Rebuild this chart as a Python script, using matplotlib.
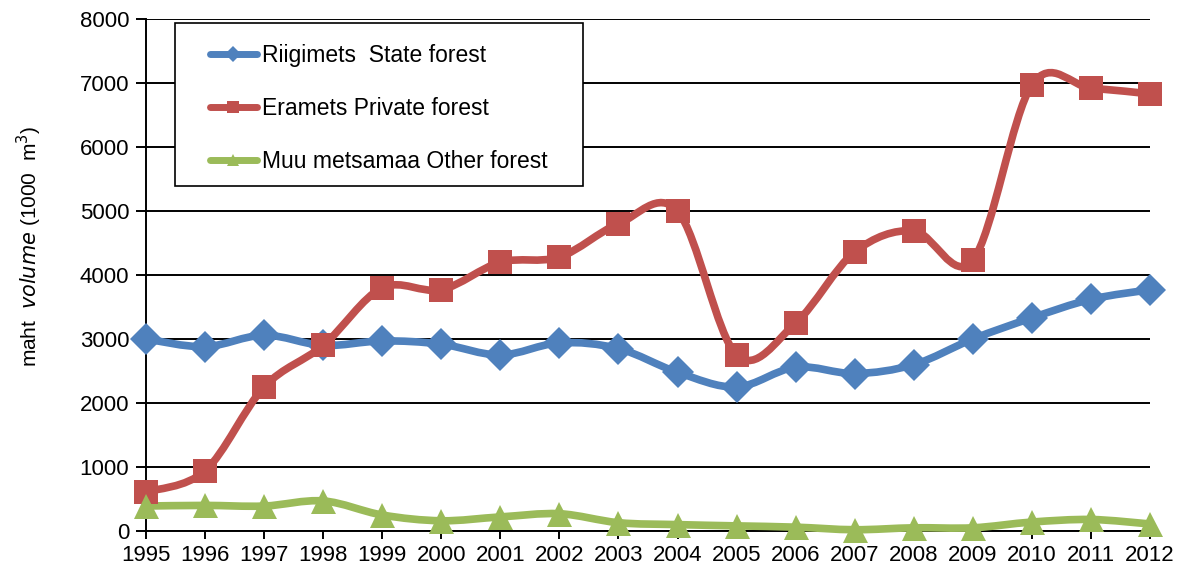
import matplotlib.pyplot as plt
from matplotlib.path import Path
from matplotlib.patches import PathPatch, Rectangle
from matplotlib.lines import Line2D

plt.rcParams['font.family'] = ['Liberation Sans', 'DejaVu Sans']

years = list(range(1995, 2013))
state = [3000, 2880, 3060, 2900, 2970, 2920, 2750, 2940, 2850, 2480,
         2250, 2560, 2460, 2600, 3000, 3330, 3620, 3770]
private = [610, 940, 2250, 2900, 3800, 3770, 4200, 4280, 4800, 5000,
           2750, 3250, 4360, 4690, 4230, 6970, 6920, 6830]
other = [390, 400, 390, 470, 250, 160, 220, 270, 130, 100,
         80, 60, 20, 50, 50, 140, 180, 110]

labels = ['Riigimets  State forest', 'Eramets Private forest', 'Muu metsamaa Other forest']
colors = ['#4F81BD', '#C0504D', '#9BBB59']
markers = ['D', 's', '^']
msizes = [16, 17, 18]
yticks = list(range(0, 8001, 1000))


def smooth_path(x, y):
    # Excel-like smoothed line: cubic Bezier segments through every point
    n = len(x)
    verts = [(x[0], y[0])]
    codes = [Path.MOVETO]
    for i in range(n - 1):
        i0 = max(i - 1, 0)
        i3 = min(i + 2, n - 1)
        c1 = (x[i] + (x[i + 1] - x[i0]) / 6, y[i] + (y[i + 1] - y[i0]) / 6)
        c2 = (x[i + 1] - (x[i3] - x[i]) / 6, y[i + 1] - (y[i3] - y[i]) / 6)
        verts += [c1, c2, (x[i + 1], y[i + 1])]
        codes += [Path.CURVE4] * 3
    return Path(verts, codes)


fig = plt.figure(figsize=(11.77, 5.74), dpi=100)
ax = fig.add_axes([146 / 1177, 43 / 574, 1004 / 1177, 512 / 574])

handles = []
for vals, lab, col, mk, ms in zip([state, private, other], labels, colors, markers, msizes):
    ax.add_patch(PathPatch(smooth_path(years, vals), facecolor='none', edgecolor=col,
                           lw=5.5, capstyle='round', joinstyle='round', zorder=3, clip_on=False))
    ax.plot(years, vals, linestyle='none', marker=mk, markersize=ms, color=col,
            markeredgewidth=0, zorder=4, clip_on=False)
    handles.append(Line2D([], [], color=col, lw=5, marker=mk, markersize=8,
                          markeredgewidth=0, solid_capstyle='round'))

ax.set_xlim(1995, 2012)
ax.set_ylim(0, 8000)
ax.set_yticks(yticks)
ax.set_xticks(years)
ax.set_xticklabels([str(y) for y in years])
ax.yaxis.grid(True, color='black', lw=1.4)
ax.set_axisbelow(True)
for s in ['top', 'right']:
    ax.spines[s].set_visible(False)
ax.spines['left'].set_linewidth(1.4)
ax.spines['bottom'].set_linewidth(1.4)
ax.tick_params(axis='y', direction='out', length=7, width=1.4, labelsize=16, pad=5)
ax.tick_params(axis='x', direction='out', length=6, width=1.4, labelsize=16, pad=4)

ax.set_ylabel(r'maht  $\mathit{volume}$ (1000  m$^3$)', fontsize=15, labelpad=22)
ax.yaxis.set_label_coords(-0.102, 0.555)

# legend frame drawn separately so the side padding can be wider than the top one
ax.add_patch(Rectangle((29 / 1004, 345 / 512), 408 / 1004, 163 / 512, transform=ax.transAxes,
                       facecolor='white', edgecolor='black', lw=1.2, zorder=5, clip_on=False))
leg = ax.legend(handles, labels, loc='upper left', bbox_to_anchor=(64 / 1004, 487 / 512),
                fontsize=16.5, frameon=False, handlelength=2.05, handletextpad=0.2,
                labelspacing=1.32, borderpad=0, borderaxespad=0)
leg.set_zorder(6)

fig.savefig('out.png', dpi=100)
